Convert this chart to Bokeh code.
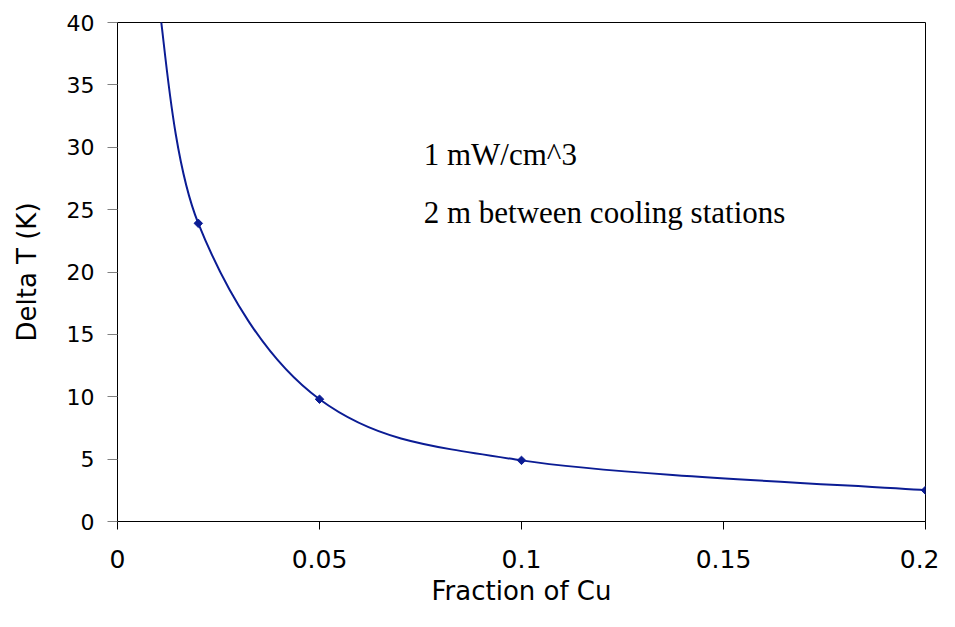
import numpy as np
from bokeh.plotting import figure
from bokeh.models import NumeralTickFormatter, Label
from bokeh.embed import file_html
from bokeh.resources import INLINE

# ---- data ----
fraction_cu = [0.01, 0.02, 0.05, 0.1, 0.2]
delta_t = [42.0, 23.9, 9.8, 4.9, 2.5]
x_ticks = [0, 0.05, 0.1, 0.15, 0.2]
y_ticks = [0, 5, 10, 15, 20, 25, 30, 35, 40]
note_lines = ["1 mW/cm^3", "2 m between cooling stations"]
note_x = [0.0758, 0.0758]
note_y = [29.43, 24.77]
x_title = "Fraction of Cu"
y_title = "Delta T (K)"

LINE = "#0b1c94"
FONT = "DejaVu Sans"

p = figure(width=939, height=611, x_range=(0, 0.2), y_range=(0, 40),
           output_backend="svg", toolbar_location=None,
           min_border_left=117, min_border_top=22, min_border_right=14, min_border_bottom=90)
p.grid.visible = False
p.outline_line_color = "black"
p.outline_line_width = 1
p.background_fill_color = "white"
p.border_fill_color = "white"

# smoothed line (Excel-style Catmull-Rom beziers through the data points)
xs = np.array(fraction_cu, dtype=float)
ys = np.array(delta_t, dtype=float)
n = len(xs)
x0, y0, x1, y1, cx0, cy0, cx1, cy1 = [], [], [], [], [], [], [], []
for i in range(n - 1):
    ip = max(i - 1, 0)
    inx = min(i + 2, n - 1)
    x0.append(xs[i]); y0.append(ys[i])
    x1.append(xs[i + 1]); y1.append(ys[i + 1])
    cx0.append(xs[i] + (xs[i + 1] - xs[ip]) / 6.0)
    cy0.append(ys[i] + (ys[i + 1] - ys[ip]) / 6.0)
    cx1.append(xs[i + 1] - (xs[inx] - xs[i]) / 6.0)
    cy1.append(ys[i + 1] - (ys[inx] - ys[i]) / 6.0)
p.bezier(x0=x0, y0=y0, x1=x1, y1=y1, cx0=cx0, cy0=cy0, cx1=cx1, cy1=cy1,
         line_color=LINE, line_width=2)
p.scatter(x=fraction_cu, y=delta_t, marker="square", angle=np.pi / 4, size=6,
          fill_color=LINE, line_color=LINE)

for t, tx, ty in zip(note_lines, note_x, note_y):
    p.add_layout(Label(x=tx, y=ty, text=t, text_font="Liberation Serif",
                       text_font_size="31px", text_color="black",
                       text_baseline="alphabetic", text_align="left"))

# x axis
xa = p.xaxis[0]
xa.ticker = x_ticks
xa.formatter = NumeralTickFormatter(format="0.[00]")
xa.axis_label = x_title
xa.axis_label_text_font = FONT
xa.axis_label_text_font_style = "normal"
xa.axis_label_text_font_size = "26px"
xa.axis_label_text_color = "black"
xa.axis_label_standoff = 5
xa.major_label_text_font = FONT
xa.major_label_text_font_size = "25px"
xa.major_label_text_color = "black"
xa.major_label_standoff = 20
xa.major_tick_out = 8
xa.major_tick_in = 0
xa.minor_tick_line_color = None
xa.axis_line_color = "black"
xa.major_tick_line_color = "black"

# y axis
ya = p.yaxis[0]
ya.ticker = y_ticks
ya.axis_label = y_title
ya.axis_label_text_font = FONT
ya.axis_label_text_font_style = "normal"
ya.axis_label_text_font_size = "26px"
ya.axis_label_text_color = "black"
ya.axis_label_standoff = 22
ya.major_label_text_font = FONT
ya.major_label_text_font_size = "22px"
ya.major_label_text_color = "black"
ya.major_label_standoff = 13
ya.major_tick_out = 10
ya.major_tick_in = 0
ya.minor_tick_line_color = None
ya.axis_line_color = "black"
ya.major_tick_line_color = "#808080"

open("out.html", "w").write(file_html(p, INLINE))
